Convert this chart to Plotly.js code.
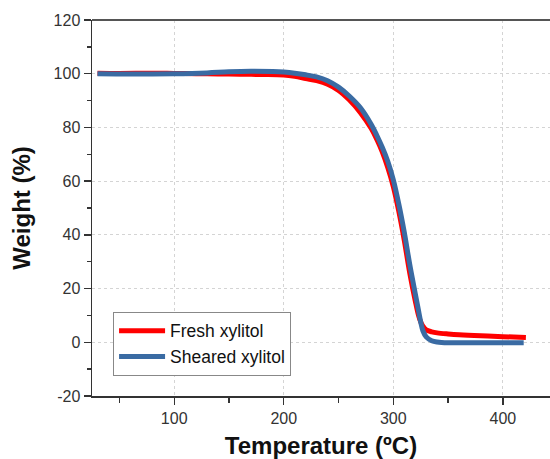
<!DOCTYPE html>
<html>
<head>
<meta charset="utf-8">
<script src="https://cdn.plot.ly/plotly-3.0.1.min.js"></script>
<style>html,body{margin:0;padding:0;background:#fff;}#chart{width:550px;height:459px;}</style>
</head>
<body>
<div id="chart"></div>
<script>
var freshT = [30, 50, 80, 100, 120, 140, 160, 180, 200, 210, 220, 230, 240, 250, 260, 270, 280, 285, 290, 295, 300, 305, 310, 315, 320, 323, 325, 327, 330, 335, 340, 350, 360, 380, 400, 421];
var freshW = [100.2, 100.1, 100.2, 100.1, 100.0, 99.9, 99.8, 99.7, 99.5, 99.0, 98.2, 97.4, 96.1, 93.8, 90.2, 85.5, 79.5, 75.5, 70.8, 65.0, 58.0, 48.8, 38.0, 25.8, 15.5, 10.0, 7.6, 6.0, 4.6, 3.9, 3.5, 3.1, 2.8, 2.4, 2.1, 1.8];
var shearT = [30, 60, 100, 130, 150, 170, 190, 200, 210, 220, 230, 240, 250, 260, 270, 280, 285, 290, 295, 300, 305, 310, 315, 320, 323, 325, 327, 330, 335, 340, 350, 360, 380, 400, 419];
var shearW = [100.0, 99.9, 100.0, 100.3, 100.7, 100.9, 100.8, 100.6, 100.2, 99.6, 98.8, 97.4, 95.0, 91.6, 87.3, 81.0, 77.0, 72.5, 67.3, 60.5, 51.5, 41.0, 29.0, 18.2, 11.8, 7.5, 4.3, 2.0, 0.6, 0.1, -0.2, -0.2, -0.2, -0.2, -0.2];
var seriesNames = ["Fresh xylitol", "Sheared xylitol"];
var yTickVals = [-20, 0, 20, 40, 60, 80, 100, 120];
var yTickText = ["-20", "0", "20", "40", "60", "80", "100", "120"];
var xTickVals = [100, 200, 300, 400];

var font = "Arial, 'Liberation Sans', sans-serif";
var traces = [
  {x: freshT, y: freshW, name: seriesNames[0], mode: "lines", type: "scatter",
   line: {color: "#ff0000", width: 5, shape: "spline", smoothing: 1}},
  {x: shearT, y: shearW, name: seriesNames[1], mode: "lines", type: "scatter",
   line: {color: "#3a6ba3", width: 5, shape: "spline", smoothing: 1}}
];
var axisCommon = {
  showline: true, linecolor: "#333", linewidth: 1.5, mirror: false,
  ticks: "outside", ticklen: 7, tickwidth: 1.3, tickcolor: "#333",
  showgrid: true, gridcolor: "#d4d4d4", griddash: "3px,3px", gridwidth: 1,
  zeroline: false,
  tickfont: {family: font, size: 16, color: "#333"}
};
var layout = {
  width: 550, height: 459,
  margin: {l: 92, r: 0, t: 20, b: 63},
  paper_bgcolor: "#fff", plot_bgcolor: "#fff",
  showlegend: true,
  legend: {x: 0.046, y: 0.224, xanchor: "left", yanchor: "top",
           bordercolor: "#888", borderwidth: 1, bgcolor: "#fff", itemwidth: 46,
           font: {family: font, size: 17.5, color: "#111"}, tracegroupgap: 0},
  xaxis: Object.assign({}, axisCommon, {
    range: [25, 443], tickvals: xTickVals,
    minor: {tickvals: [50, 150, 250, 350], ticklen: 5, tickcolor: "#333", showgrid: false},
    title: {text: "<b>Temperature (ºC)</b>", font: {family: font, size: 24, color: "#111"}, standoff: 14}
  }),
  yaxis: Object.assign({}, axisCommon, {
    range: [-20, 120], tickvals: yTickVals, ticktext: yTickText,
    minor: {dtick: 10, ticklen: 4, tickcolor: "#333", showgrid: false},
    title: {text: "<b>Weight (%)</b>", font: {family: font, size: 24, color: "#111"}, standoff: 16}
  }),
  shapes: [{type: "line", xref: "paper", yref: "paper", x0: 0, x1: 1, y0: 1, y1: 1,
            line: {color: "#555", width: 2}}]
};
Plotly.newPlot("chart", traces, layout, {displayModeBar: false, staticPlot: true});
</script>
</body>
</html>
